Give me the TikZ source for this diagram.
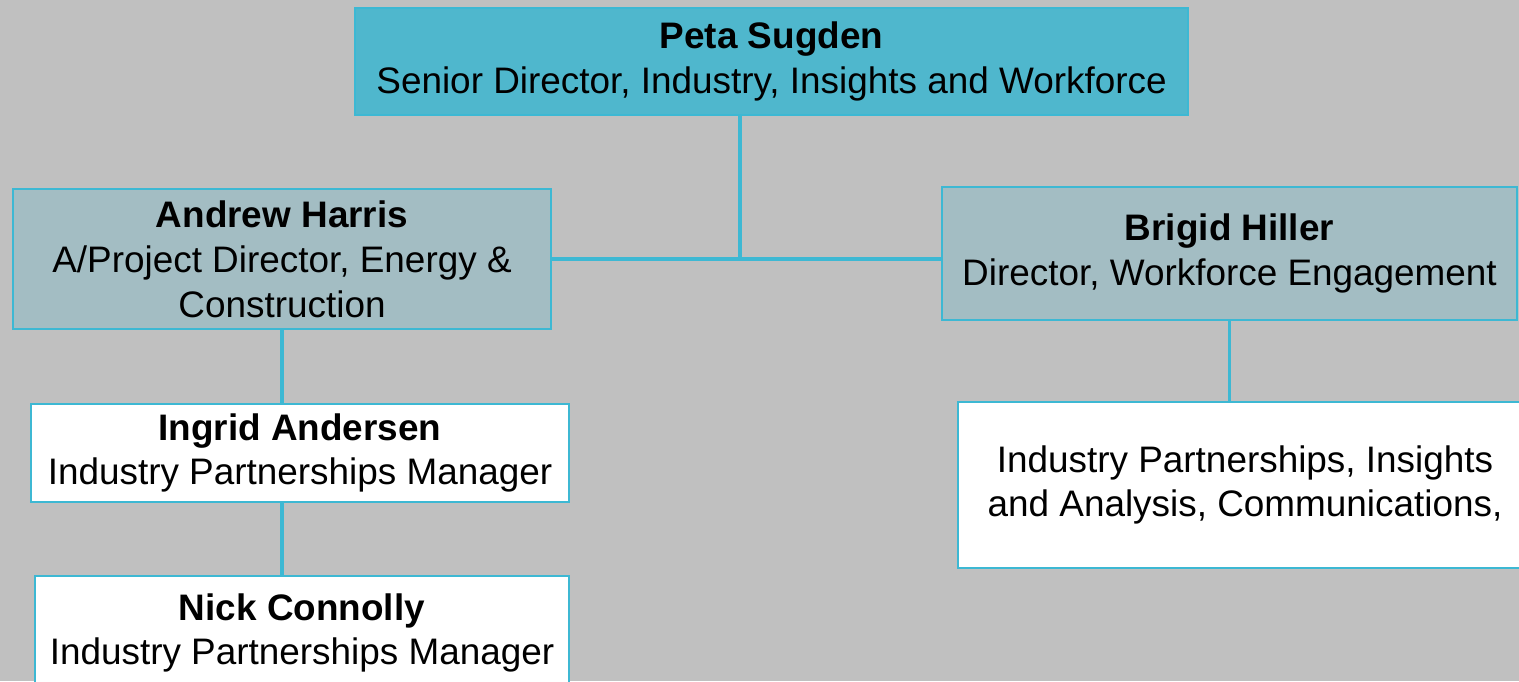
\documentclass[tikz,border=0pt]{standalone}
\usepackage{fontspec}
\setmainfont{Liberation Sans}
\usetikzlibrary{positioning, calc}

\definecolor{pagegray}{HTML}{C0C0C0}
\definecolor{linkblue}{HTML}{3DB8D3}
\definecolor{headteal}{HTML}{4FB7CD}
\definecolor{leadgray}{HTML}{A3BDC3}

\tikzset{
  person/.style={draw=linkblue, line width=1.5pt, align=center, inner sep=0pt,
    font=\fontsize{21}{25.5}\selectfont},
  headbox/.style={person, fill=headteal},
  leadbox/.style={person, fill=leadgray},
  staffbox/.style={person, fill=white},
  link/.style={linkblue, line width=1.8pt}
}

\begin{document}
\begin{tikzpicture}[x=0.02cm, y=-0.02cm]
% page background, same size as the chart
\fill[pagegray] (0,0) rectangle (1519,681);
\clip (0,0) rectangle (1519,681);

% top of the chart
\node[headbox, minimum width=16.66cm, minimum height=2.14cm] (peta) at (771.5,61.5)
  {\textbf{Peta Sugden}\\Senior Director, Industry, Insights and Workforce};

% the two directors
\node[leadbox, minimum width=10.76cm, minimum height=2.8cm] (andrew) at (282,259)
  {\textbf{Andrew Harris}\\A/Project Director, Energy \&\\Construction};
\node[leadbox, minimum width=11.5cm, minimum height=2.66cm] (brigid) at (1229.5,253.5)
  {\textbf{Brigid Hiller}\\Director, Workforce Engagement};

% staff under each director
\node[staffbox, minimum width=10.76cm, minimum height=1.96cm] (ingrid) at (300,453)
  {\textbf{Ingrid Andersen}\\Industry Partnerships Manager};
\node[staffbox, minimum width=10.68cm, minimum height=2.28cm] (nick) at (302,633)
  {\textbf{Nick Connolly}\\Industry Partnerships Manager};
\node[staffbox, minimum width=11.48cm, minimum height=3.32cm] (team) at (1245,485)
  {Industry Partnerships, Insights\\and Analysis, Communications,};

% connectors
\coordinate (split) at (740,259);
\draw[link] (peta.south -| split) -- (split);
\draw[link] (andrew.east) -- (andrew.east -| brigid.west);
\draw[link] (andrew.south) -- (andrew.south |- ingrid.north);
\draw[link] (andrew.south |- ingrid.south) -- (andrew.south |- nick.north);
\draw[link] ([yshift=0.04cm]brigid.south) -- (brigid.south |- team.north);

\end{tikzpicture}
\end{document}
